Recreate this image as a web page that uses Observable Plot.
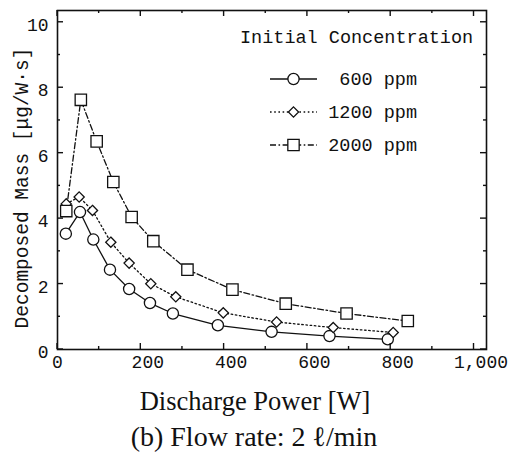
<!DOCTYPE html>
<html><head><meta charset="utf-8">
<script src="https://cdn.jsdelivr.net/npm/d3@7"></script>
<script src="https://cdn.jsdelivr.net/npm/@observablehq/plot@0.6"></script>
<style>
body{margin:0;background:#fff}
#chart{position:relative;width:510px;height:456px}
</style>
</head><body><div id="chart"></div>
<script>
// ---- data ----
const seriesNames = ["600 ppm", "1200 ppm", "2000 ppm"];
const power600  = [20, 54, 86, 126, 172, 222, 277, 385, 514, 653, 793];
const mass600   = [3.54, 4.20, 3.36, 2.44, 1.85, 1.42, 1.10, 0.74, 0.54, 0.41, 0.31];
const power1200 = [21, 52, 84, 128, 172, 224, 284, 398, 526, 662, 806];
const mass1200  = [4.45, 4.66, 4.25, 3.28, 2.64, 2.01, 1.61, 1.12, 0.84, 0.67, 0.52];
const power2000 = [21, 56, 94, 134, 178, 230, 312, 420, 548, 694, 841];
const mass2000  = [4.23, 7.63, 6.36, 5.12, 4.05, 3.31, 2.44, 1.83, 1.40, 1.10, 0.87];
const xTicks = [0, 200, 400, 600, 800, 1000];
const xTickLabels = ["0", "200", "400", "600", "800", "1,000"];
const xMinor = [100, 300, 500, 700, 900];
const yTicks = [0, 2, 4, 6, 8, 10];
const yTickLabels = ["0", "2", "4", "6", "8", "10"];
const yMinor = [1, 3, 5, 7, 9];
const legendTitle = "Initial Concentration";
const xLabel = "Discharge Power [W]";
const yLabel = "Decomposed Mass [\u03bcg/W\u00b7s]";
const caption = "(b) Flow rate: 2 \u2113/min";

// ---- styles ----
const ink = "#111";
const mono = "'Liberation Mono', 'DejaVu Sans Mono', monospace";
const serif = "'Liberation Serif', 'DejaVu Serif', serif";
const seriesStyle = {
  "600 ppm":  {symbol: "circle",   d3sym: d3.symbolCircle,   r: 5.6, dash: null},
  "1200 ppm": {symbol: "diamond2", d3sym: d3.symbolDiamond2, r: 4.6, dash: "1.6,2.6"},
  "2000 ppm": {symbol: "square",   d3sym: d3.symbolSquare,   r: 6.4, dash: "6,2.5,1.6,2.5"}
};

const seriesData = [[power600, mass600], [power1200, mass1200], [power2000, mass2000]];
const rows = [];
seriesData.forEach(([p, m], i) => p.forEach((x, j) => rows.push({series: seriesNames[i], power: x, mass: m[j]})));

const marks = [];
seriesNames.forEach(s => {
  const st = seriesStyle[s];
  marks.push(Plot.line(rows.filter(r => r.series === s), {x: "power", y: "mass", stroke: ink, strokeWidth: 1.3, strokeDasharray: st.dash}));
});
seriesNames.forEach(s => {
  const st = seriesStyle[s];
  marks.push(Plot.dot(rows.filter(r => r.series === s), {x: "power", y: "mass", symbol: st.symbol, r: st.r, fill: "white", stroke: ink, strokeWidth: 1.3}));
});

const fmtX = v => xTickLabels[xTicks.indexOf(v)];
const fmtY = v => yTickLabels[yTicks.indexOf(v)];
const tickFont = {fontFamily: mono, fontSize: 18, fill: ink};

const plot = Plot.plot({
  width: 510, height: 456,
  marginLeft: 57, marginRight: 24, marginTop: 10, marginBottom: 107,
  x: {domain: [0, 1030]},
  y: {domain: [0, 10.36]},
  style: {background: "white", color: ink},
  marks: [
    ...marks,
    Plot.frame({stroke: ink, strokeWidth: 1.6}),
    // tick labels
    Plot.axisX({anchor: "bottom", ticks: xTicks.slice(0, 1), tickSize: 0, tickPadding: 6, tickFormat: fmtX, label: null, ...tickFont}),
    Plot.axisX({anchor: "bottom", ticks: xTicks.slice(1), tickSize: 0, tickPadding: 6, dx: 7, tickFormat: fmtX, label: null, ...tickFont}),
    Plot.axisY({anchor: "left", ticks: yTicks, tickSize: 0, tickPadding: 9, dy: 3, tickFormat: fmtY, label: null, ...tickFont}),
    // axis title and caption
    Plot.text([xLabel], {frameAnchor: "bottom", textAnchor: "middle", dx: -17, dy: 60, fontFamily: serif, fontSize: 26.5, fill: ink}),
    Plot.text([caption], {frameAnchor: "bottom", textAnchor: "middle", dx: -18, dy: 96, fontFamily: serif, fontSize: 28, fill: ink})
  ]
});
document.getElementById("chart").appendChild(plot);

const svg = d3.select(plot);
const sx = plot.scale("x"), sy = plot.scale("y");
const [x0, x1] = sx.range, [y0, y1] = sy.range; // y0 bottom, y1 top

// ---- inward tick marks on all four sides, placed through Plot's scales ----
const tg = svg.append("g").attr("stroke", ink).attr("stroke-width", 1.4);
[[xTicks, 6], [xMinor, 3]].forEach(([vals, len]) => vals.forEach(v => {
  const px = sx.apply(v);
  tg.append("line").attr("x1", px).attr("x2", px).attr("y1", y0).attr("y2", y0 - len);
  tg.append("line").attr("x1", px).attr("x2", px).attr("y1", y1).attr("y2", y1 + len);
}));
[[yTicks, 6], [yMinor, 3]].forEach(([vals, len]) => vals.forEach(v => {
  const py = sy.apply(v);
  tg.append("line").attr("y1", py).attr("y2", py).attr("x1", x0).attr("x2", x0 + len);
  tg.append("line").attr("y1", py).attr("y2", py).attr("x1", x1).attr("x2", x1 - len);
}));

// ---- y-axis title ----
svg.append("text")
  .attr("transform", "translate(21.5,188) rotate(-90)")
  .attr("text-anchor", "middle").attr("dy", "0.35em")
  .attr("font-family", mono).attr("font-size", 19.5).attr("fill", ink)
  .text(yLabel);

// ---- legend ----
const lg = svg.append("g").attr("font-family", mono).attr("font-size", 18.5).attr("fill", ink);
lg.append("text").attr("x", 240).attr("y", 37).attr("dy", "0.35em").attr("text-anchor", "start").text(legendTitle);
seriesNames.forEach((s, i) => {
  const st = seriesStyle[s];
  const cy = 79 + i * 33;
  lg.append("line").attr("x1", 270).attr("x2", 317).attr("y1", cy).attr("y2", cy)
    .attr("stroke", ink).attr("stroke-width", 1.3).attr("stroke-dasharray", st.dash);
  lg.append("path").attr("transform", `translate(293.5,${cy})`)
    .attr("d", d3.symbol().type(st.d3sym).size(Math.PI * st.r * st.r)())
    .attr("fill", "white").attr("stroke", ink).attr("stroke-width", 1.3);
  lg.append("text").attr("x", 417).attr("y", cy).attr("dy", "0.35em").attr("text-anchor", "end").text(s);
});
</script>
</body></html>
